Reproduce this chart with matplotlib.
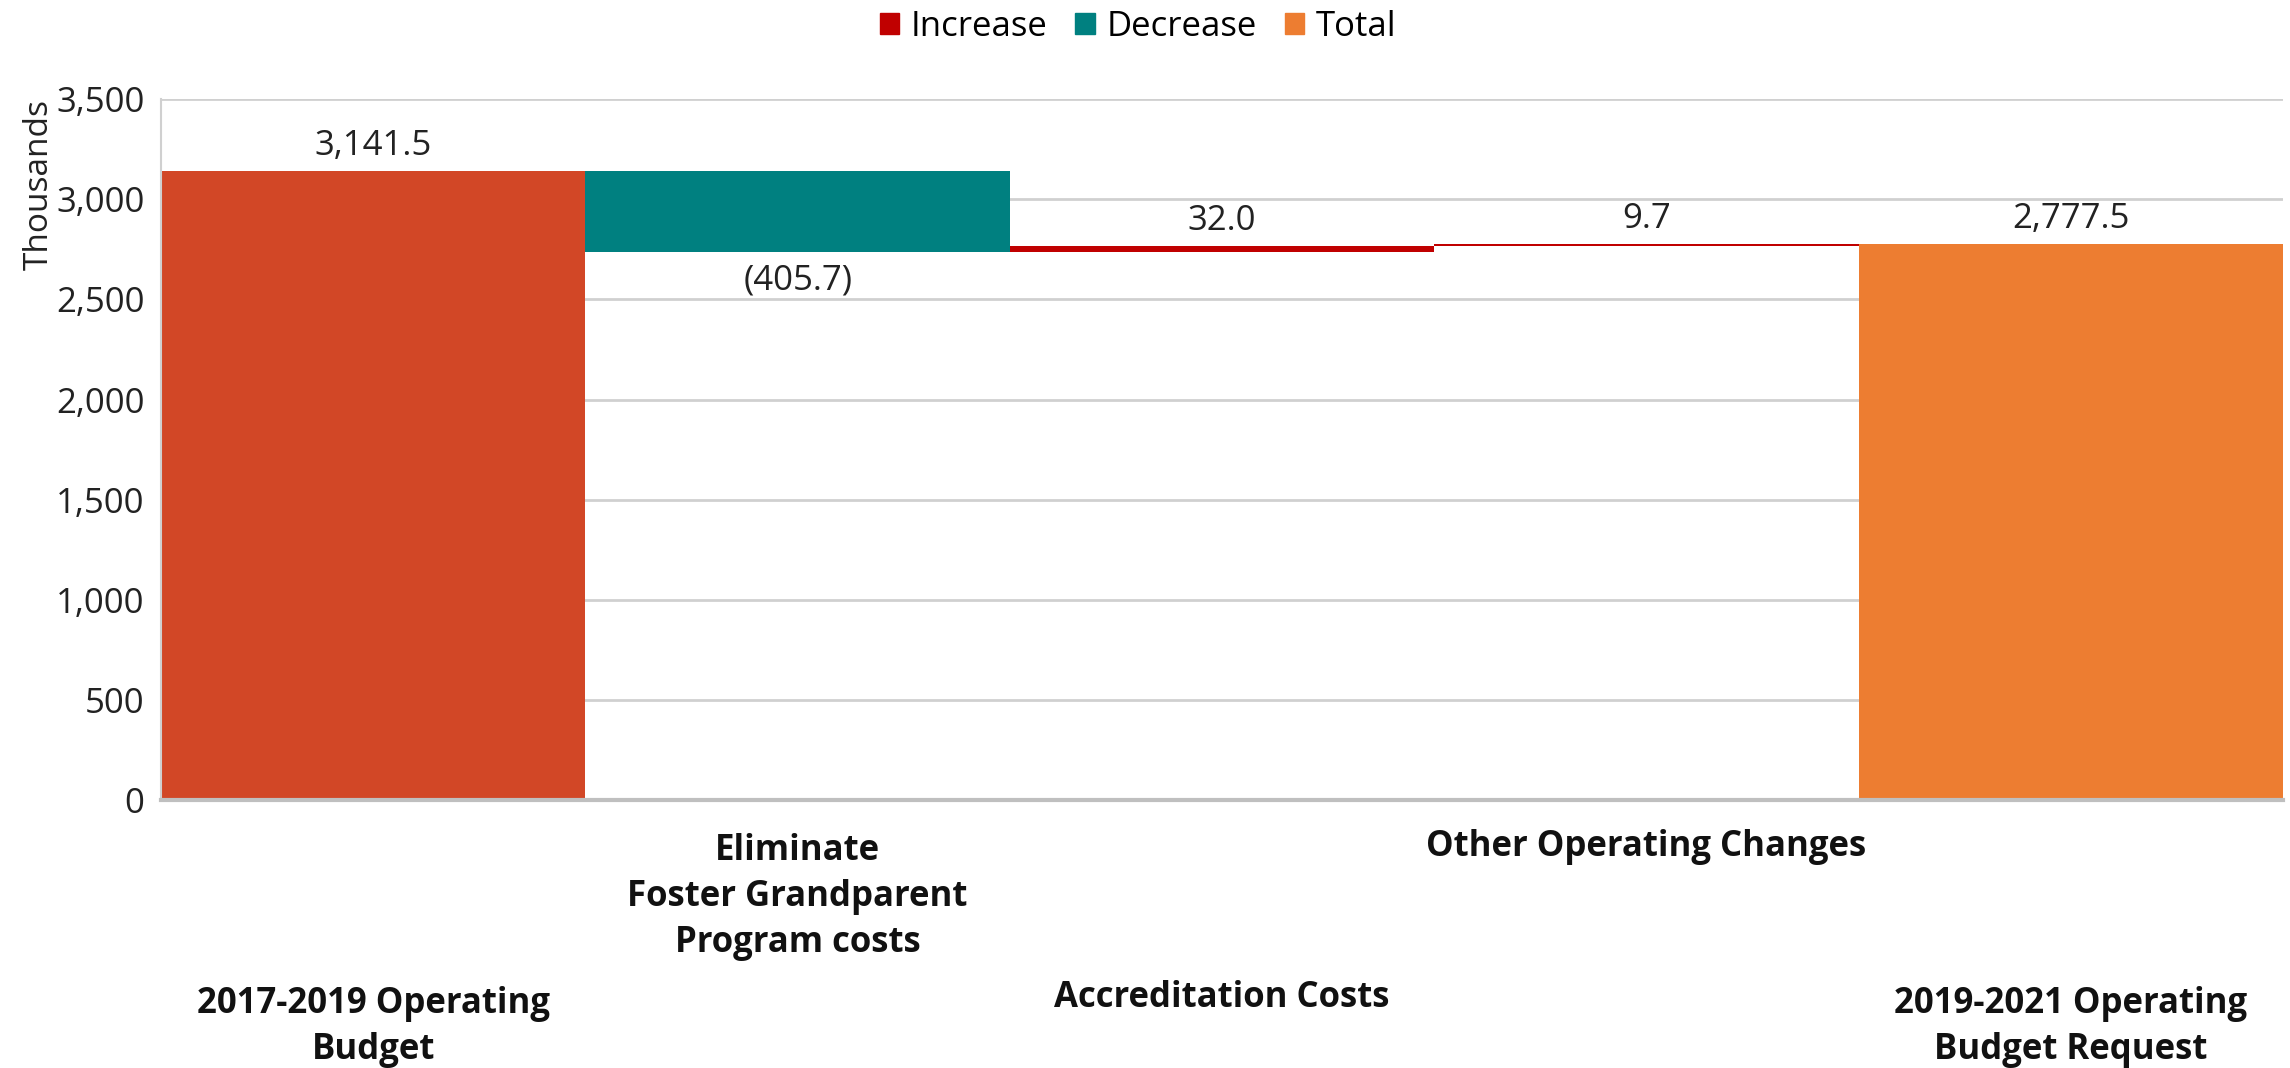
import numpy as np
import matplotlib.pyplot as plt
from matplotlib.patches import Patch

plt.rcParams['font.family'] = ['Open Sans', 'DejaVu Sans']

categories = ['2017-2019 Operating\nBudget',
              'Eliminate\nFoster Grandparent\nProgram costs',
              'Accreditation Costs',
              'Other Operating Changes',
              '2019-2021 Operating\nBudget Request']
values = [3141.5, -405.7, 32.0, 9.7, 2777.5]
kinds = ['total', 'decrease', 'increase', 'increase', 'total']
labels = ['3,141.5', '(405.7)', '32.0', '9.7', '2,777.5']

colors = {'increase': '#C00000', 'decrease': '#008080', 'total': '#ED7D31'}
first_color = '#D24726'

# waterfall bottoms / heights
bottoms, heights = [], []
running = 0.0
for v, k in zip(values, kinds):
    if k == 'total':
        bottoms.append(0)
        heights.append(v)
        running = v
    elif v >= 0:
        bottoms.append(running)
        heights.append(v)
        running += v
    else:
        bottoms.append(running + v)
        heights.append(-v)
        running += v

fig = plt.figure(figsize=(22.9, 10.68), dpi=100)
ax = fig.add_axes([0.0703, 0.251, 0.9267, 0.656])

x = np.arange(len(values))
bar_colors = [colors[k] for k in kinds]
bar_colors[0] = first_color
ax.bar(x, heights, bottom=bottoms, width=1.0, color=bar_colors, zorder=2)

ax.set_xlim(-0.5, len(values) - 0.5)
ax.set_ylim(0, 3500)
ax.set_yticks(np.arange(0, 3501, 500))
ax.set_yticklabels([f'{t:,}' for t in range(0, 3501, 500)], fontsize=25, color='#222222')
ax.set_xticks([])
ax.tick_params(axis='y', length=0, pad=12)
ax.grid(axis='y', color='#D0D0D0', lw=2, zorder=0)
for s in ['top', 'right']:
    ax.spines[s].set_visible(False)
ax.spines['left'].set_color('#D0D0D0')
ax.spines['left'].set_linewidth(1.5)
ax.spines['bottom'].set_color('#BFBFBF')
ax.spines['bottom'].set_linewidth(3)
ax.set_ylabel('Thousands', fontsize=24, loc='top', labelpad=0, color='#222222')

# data labels
for i, (b, h, k, lab) in enumerate(zip(bottoms, heights, kinds, labels)):
    if k == 'decrease':
        ax.annotate(lab, (i, b), xytext=(0, -28), textcoords='offset pixels',
                    ha='center', va='center', fontsize=25, color='#222222')
    else:
        ax.annotate(lab, (i, b + h), xytext=(0, 25), textcoords='offset pixels',
                    ha='center', va='center', fontsize=25, color='#222222')

# staggered category labels
offsets = [227, 97, 198, 47, 227]
for i, (cat, off) in enumerate(zip(categories, offsets)):
    ax.annotate(cat, (i, 0), xycoords=ax.get_xaxis_transform(),
                xytext=(0, -off), textcoords='offset pixels',
                ha='center', va='center', fontsize=25, fontweight='bold',
                linespacing=1.38, color='#111111')

handles = [Patch(color=colors['increase'], label='Increase'),
           Patch(color=colors['decrease'], label='Decrease'),
           Patch(color=colors['total'], label='Total')]
fig.legend(handles=handles, loc='center', bbox_to_anchor=(0.497, 0.975), ncol=3,
           frameon=False, fontsize=25, handlelength=0.55, handleheight=0.55,
           handletextpad=0.35, columnspacing=0.8)

fig.savefig('out.png', dpi=100)
